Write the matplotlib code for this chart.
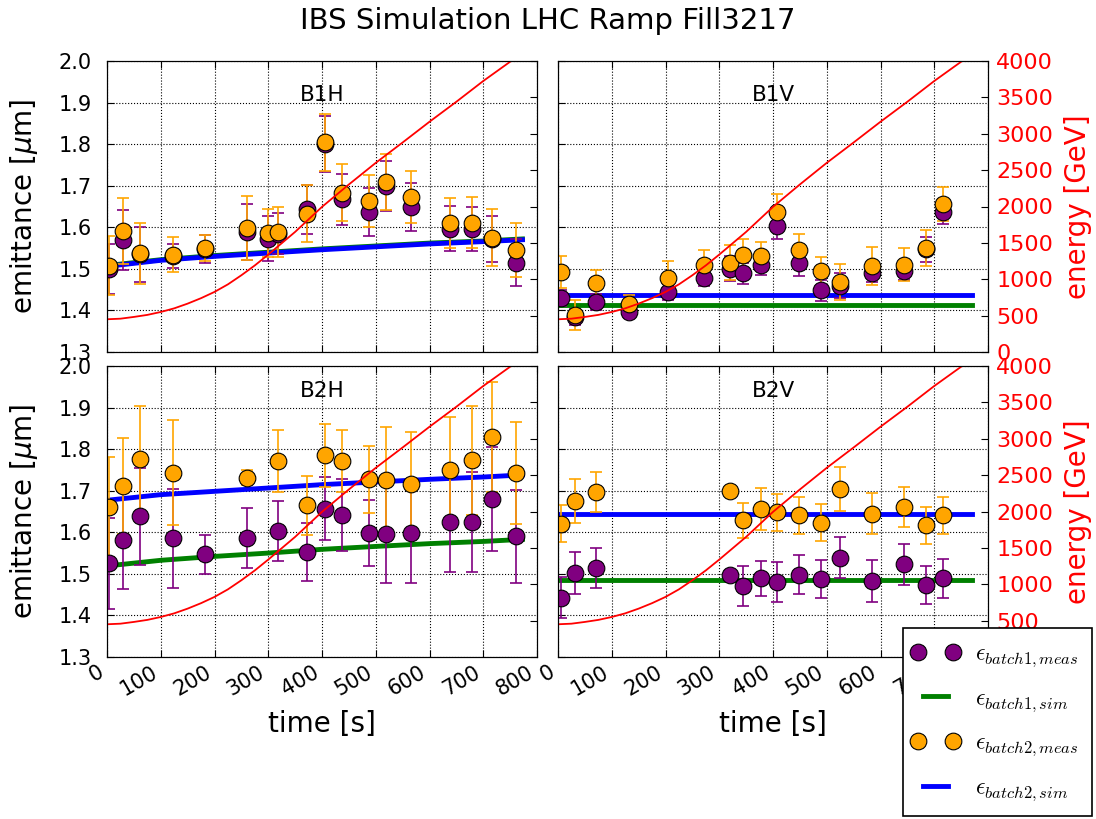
import numpy as np
import matplotlib
matplotlib.use('Agg')
import matplotlib.pyplot as plt
from matplotlib.font_manager import FontProperties
from matplotlib.legend_handler import HandlerLine2D

nan = np.nan

# energy ramp (right axis)
ramp_t = [0, 25, 50, 75, 100, 125, 150, 175, 200, 225, 250, 275, 300, 350, 400, 450, 500, 550, 600, 650, 700, 750, 770]
ramp_E = [450, 458, 482, 510, 550, 600, 665, 740, 826, 930, 1055, 1190, 1339, 1651, 1995, 2303, 2600, 2880, 3165, 3440, 3725, 3990, 4100]

# simulated emittance, horizontal planes
sim_t = [0, 100, 200, 300, 400, 500, 600, 700, 773]
b1h_sim1 = [1.508, 1.522, 1.532, 1.540, 1.548, 1.555, 1.562, 1.567, 1.572]
b1h_sim2 = [1.506, 1.5205, 1.530, 1.538, 1.546, 1.553, 1.560, 1.5655, 1.570]
b2h_sim1 = [1.519, 1.5326, 1.542, 1.550, 1.559, 1.566, 1.5727, 1.578, 1.583]
b2h_sim2 = [1.677, 1.6905, 1.6985, 1.7065, 1.7146, 1.721, 1.7274, 1.733, 1.738]

# simulated emittance, vertical planes (flat)
simv_t = [0, 770]
b1v_sim1 = [1.414, 1.414]
b1v_sim2 = [1.438, 1.438]
b2v_sim1 = [1.486, 1.486]
b2v_sim2 = [1.643, 1.643]

# measurements
b1h_t = [3, 30, 61, 122, 182, 260, 299, 319, 373, 406, 438, 488, 519, 566, 638, 679, 716, 761]
b1h_m1 = [1.50, 1.569, 1.535, 1.53, 1.548, 1.589, 1.573, 1.585, 1.643, 1.80, 1.667, 1.637, 1.699, 1.649, 1.597, 1.595, 1.571, 1.515]
b1h_e1 = [0.06, 0.072, 0.066, 0.029, 0.033, 0.067, 0.053, 0.05, 0.059, 0.068, 0.062, 0.057, 0.06, 0.057, 0.055, 0.053, 0.055, 0.057]
b1h_m2 = [1.508, 1.591, 1.537, 1.534, 1.55, 1.599, 1.586, 1.589, 1.633, 1.804, 1.683, 1.663, 1.709, 1.673, 1.61, 1.611, 1.575, 1.545]
b1h_e2 = [0.07, 0.08, 0.073, 0.042, 0.032, 0.077, 0.058, 0.06, 0.069, 0.068, 0.069, 0.062, 0.068, 0.063, 0.061, 0.062, 0.068, 0.065]

b1v_t = [5, 31, 70, 133, 204, 271, 320, 344, 378, 408, 448, 490, 524, 584, 643, 685, 717]
b1v_m1 = [1.43, 1.384, 1.42, 1.396, 1.444, 1.478, 1.50, 1.489, 1.51, 1.603, 1.513, 1.448, 1.459, 1.489, 1.494, 1.547, 1.637]
b1v_e1 = [0.02, 0.02, 0.02, 0.015, 0.02, 0.02, 0.03, 0.025, 0.025, 0.03, 0.03, 0.025, 0.03, 0.02, 0.02, 0.03, 0.03]
b1v_m2 = [1.493, 1.388, 1.465, 1.416, 1.478, 1.51, 1.515, 1.534, 1.53, 1.637, 1.545, 1.494, 1.469, 1.507, 1.51, 1.551, 1.655]
b1v_e2 = [0.038, 0.036, 0.032, 0.02, 0.042, 0.035, 0.043, 0.038, 0.035, 0.042, 0.038, 0.035, 0.043, 0.045, 0.039, 0.043, 0.041]

b2h_t = [3, 30, 61, 122, 182, 260, 319, 373, 406, 438, 488, 519, 566, 638, 679, 716, 760]
b2h_m1 = [1.525, 1.581, 1.638, 1.586, 1.547, 1.586, 1.603, 1.553, 1.657, 1.641, 1.598, 1.597, 1.599, 1.625, 1.625, 1.681, 1.59]
b2h_e1 = [0.11, 0.117, 0.117, 0.119, 0.047, 0.073, 0.073, 0.069, 0.075, 0.086, 0.08, 0.12, 0.12, 0.12, 0.12, 0.125, 0.112]
b2h_m2 = [1.661, 1.711, 1.777, 1.743, nan, 1.731, 1.772, 1.665, 1.785, 1.772, 1.727, 1.725, 1.717, 1.751, 1.773, 1.829, 1.743]
b2h_e2 = [0.12, 0.115, 0.127, 0.126, nan, 0.018, 0.074, 0.071, 0.075, 0.074, 0.081, 0.128, 0.124, 0.127, 0.131, 0.132, 0.122]

b2v_t = [5, 31, 70, 320, 344, 378, 408, 448, 490, 524, 584, 643, 685, 717]
b2v_m1 = [1.443, 1.502, 1.515, 1.497, 1.47, 1.489, 1.481, 1.498, 1.487, 1.539, 1.483, 1.523, 1.473, 1.489]
b2v_e1 = [0.05, 0.05, 0.048, 0.01, 0.048, 0.042, 0.048, 0.047, 0.046, 0.05, 0.051, 0.05, 0.045, 0.046]
b2v_m2 = [1.621, 1.675, 1.697, 1.70, 1.629, 1.656, 1.648, 1.641, 1.623, 1.705, 1.645, 1.661, 1.617, 1.641]
b2v_e2 = [0.045, 0.052, 0.047, 0.01, 0.042, 0.05, 0.045, 0.045, 0.045, 0.053, 0.049, 0.048, 0.045, 0.044]

panels = [
    ('B1H', b1h_t, b1h_m1, b1h_e1, b1h_m2, b1h_e2, sim_t, b1h_sim1, b1h_sim2),
    ('B1V', b1v_t, b1v_m1, b1v_e1, b1v_m2, b1v_e2, simv_t, b1v_sim1, b1v_sim2),
    ('B2H', b2h_t, b2h_m1, b2h_e1, b2h_m2, b2h_e2, sim_t, b2h_sim1, b2h_sim2),
    ('B2V', b2v_t, b2v_m1, b2v_e1, b2v_m2, b2v_e2, simv_t, b2v_sim1, b2v_sim2),
]

W, H = 1096., 819.
fig = plt.figure(figsize=(W / 100, H / 100), dpi=100)
fig.suptitle('IBS Simulation LHC Ramp Fill3217', fontsize=21, y=1 - 7 / H, va='top')

lefts = [107 / W, 558 / W]
bottoms = [1 - 352 / H, 1 - 657 / H]
pw, ph = 430 / W, 291 / H

handles = None
for i, (name, t, m1, e1, m2, e2, st, s1, s2) in enumerate(panels):
    row, col = i // 2, i % 2
    ax = fig.add_axes([lefts[col], bottoms[row], pw, ph])
    ax2 = ax.twinx()

    ax.plot(st, s1, color='green', lw=3.5, zorder=2)
    ax.plot(st, s2, color='blue', lw=3.5, zorder=2)
    ax.errorbar(t, m1, yerr=e1, fmt='none', ecolor='purple', elinewidth=1.2, capsize=4, capthick=1.2, zorder=3)
    ax.errorbar(t, m2, yerr=e2, fmt='none', ecolor='orange', elinewidth=1.2, capsize=4, capthick=1.2, zorder=3)
    p1, = ax.plot(t, m1, 'o', color='purple', mec='k', mew=0.8, ms=12, zorder=4)
    p2, = ax.plot(t, m2, 'o', color='orange', mec='k', mew=0.8, ms=12, zorder=5)
    if handles is None:
        handles = [p1, ax.lines[0], p2, ax.lines[1]]
    ax.set_xlim(0, 800)
    ax.set_ylim(1.3, 2.0)
    ax.set_xticks(np.arange(0, 801, 100))
    ax.set_yticks(np.arange(1.3, 2.01, 0.1))
    ax.grid(True, color='k', linestyle=':', linewidth=0.8)
    ax.tick_params(direction='in', top=True, labelsize=15, length=5)
    ax.tick_params(axis='y', pad=11)
    ax.text(0.5, 0.85 if row == 0 else 0.88, name, transform=ax.transAxes, ha='center', va='bottom', fontsize=15.5)
    if col == 0:
        ax.set_yticklabels(['%.1f' % v for v in np.arange(1.3, 2.01, 0.1)])
        ax.set_ylabel(r'emittance [$\mu$m]', fontsize=20)
        ax.yaxis.set_label_coords(-67 / 430, 0.5)
    else:
        ax.set_yticklabels([])
    if row == 1:
        for lab in ax.get_xticklabels():
            lab.set_rotation(30)
            lab.set_ha('right')
        ax.set_xlabel('time [s]', fontsize=20, labelpad=8)
    else:
        ax.set_xticklabels([])

    ax2.plot(ramp_t, ramp_E, color='red', lw=1.3)
    ax2.set_ylim(0, 4000)
    ax2.set_yticks(np.arange(0, 4001, 500))
    ax2.tick_params(direction='in', labelsize=16, labelcolor='red', length=5, pad=6)
    if col == 1:
        ax2.set_ylabel('energy [GeV]', fontsize=20, color='red')
        ax2.yaxis.set_label_coords(1 + 76 / 430, 0.5)
    else:
        ax2.set_yticklabels([])

labels = [r'$\epsilon_{batch1,meas}$', r'$\epsilon_{batch1,sim}$',
          r'$\epsilon_{batch2,meas}$', r'$\epsilon_{batch2,sim}$']
leg = fig.legend(handles, labels, loc='upper left', bbox_to_anchor=(903 / W, 1 - 628 / H),
                 bbox_transform=fig.transFigure, borderaxespad=0, numpoints=2,
                 prop=FontProperties(size=17, math_fontfamily='cm'),
                 fancybox=False, framealpha=1, edgecolor='k', labelspacing=0.7,
                 handlelength=1.65, handletextpad=0.85, borderpad=0.55,
                 handler_map={handles[0]: HandlerLine2D(marker_pad=0.1),
                              handles[2]: HandlerLine2D(marker_pad=0.1)})
leg.get_frame().set_linewidth(1.2)

fig.savefig('out.png', dpi=100)
